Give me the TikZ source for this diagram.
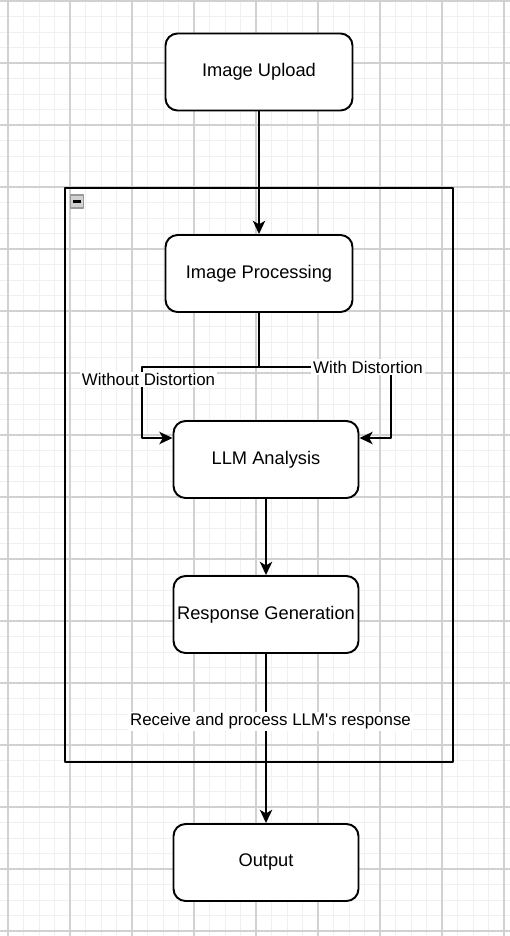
\documentclass[tikz,border=0pt]{standalone}
\usepackage{fontspec}
\setmainfont{Liberation Sans}[Ligatures=TeXOff]
\usetikzlibrary{arrows.meta,positioning,calc}

\begin{document}
\begin{tikzpicture}[
    >={Stealth[length=7.5pt,width=7pt,inset=2pt]}, line join=round,
    x=0.02cm, y=-0.02cm,
    stepbox/.style={draw, fill=white, line width=1.1pt, rounded corners=0.24cm, inner sep=1pt,
        minimum width=3.72cm, minimum height=1.54cm, font=\fontsize{10.4}{12}\selectfont},
    grpbox/.style={draw, line width=1.1pt, minimum width=7.76cm, minimum height=11.48cm, inner sep=0pt},
    conn/.style={->, line width=1.1pt},
    elbl/.style={fill=white, inner sep=1pt, font=\fontsize{9.6}{11}\selectfont},
    gridminor/.style={draw=black!6, line width=0.5pt},
    gridmajor/.style={draw=black!18, line width=0.6pt}
  ]
  \useasboundingbox (0,0) rectangle (510,936);

  % ---- background grid ----
  \def\gx{8}    % first major column
  \def\gy{1}    % first major row
  \foreach \k in {0,...,32} \draw[gridminor] ({\gx+15.5*\k},0) -- ({\gx+15.5*\k},936);
  \foreach \k in {0,...,60} \draw[gridminor] (0,{\gy+15.5*\k}) -- (510,{\gy+15.5*\k});
  \foreach \k in {0,...,8} \draw[gridmajor] ({\gx+62*\k},0) -- ({\gx+62*\k},936);
  \foreach \k in {0,...,15} \draw[gridmajor] (0,{\gy+62*\k}) -- (510,{\gy+62*\k});

  %==================== container ====================
  \node[grpbox] (grp) at (259,475) {};
  \node[draw=black!40, fill=black!18, line width=0.8pt, minimum size=0.26cm, inner sep=0pt] (fold) at (77,201.5) {};
  \draw[line width=1.2pt] ($(fold.west)+(3,0)$) -- ($(fold.east)+(-3,0)$);

  %==================== steps ====================
  \node[stepbox, minimum width=3.74cm] (upload) at (259,72) {Image Upload};
  \node[stepbox, minimum width=3.74cm] (proc) at (259,273.5) {Image Processing};
  \node[stepbox, minimum width=3.7cm] (llm) at (266,459.5) {LLM Analysis};
  \node[stepbox, minimum width=3.7cm] (resp) at (266,614.5) {Response Generation};
  \node[stepbox, minimum width=3.7cm] (out) at (266,862.5) {Output};

  % ---- connectors ----
  \coordinate (lsplit) at (142,367);
  \coordinate (rsplit) at (391,367);
  \draw[conn] (upload) -- (proc);
  \draw[conn] (proc.south) |- (lsplit) |- ($(llm.west)+(0,-21.5)$);
  \draw[conn] (proc.south) |- (rsplit) |- ($(llm.east)+(0,-21.5)$);
  \draw[conn] (llm) -- (resp);
  \draw[conn] (resp) -- (out);

  % labels on the connectors
  \node[elbl] (lwo) at (148.5,379.5) {Without Distortion};
  \node[elbl] (lw) at (368,367) {With Distortion};
  \node[elbl] (lrecv) at (270.5,721.5) {Receive and process LLM's response};

\end{tikzpicture}
\end{document}
